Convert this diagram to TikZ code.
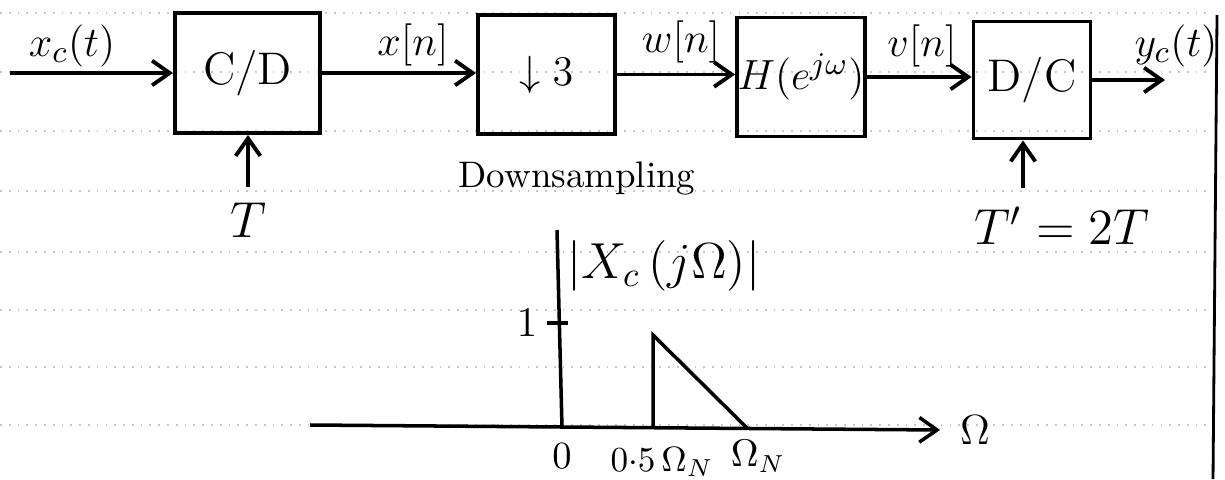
\documentclass[tikz,border=0pt]{standalone}
\usetikzlibrary{arrows.meta}
\begin{document}
\begin{tikzpicture}[x=0.01cm,y=-0.01cm,
  blk/.style={draw,line width=1.1pt,inner sep=0pt,font=\fontsize{13}{15}\selectfont},
  tip/.style={-{Straight Barb[length=5pt,width=7pt,line width=1.1pt]}},
  sig/.style={line width=1.1pt,tip},
  lbl/.style={font=\fontsize{13}{15}\selectfont,inner sep=1pt},
  small/.style={font=\fontsize{10.5}{12}\selectfont,inner sep=1pt},
  rule/.style={gray!45,dotted,line width=0.5pt},
  plotln/.style={line width=1pt}]
\useasboundingbox (0,0) rectangle (1225,479);
% ruled paper lines
\foreach \yy in {13,72,131,191,252,310,367,425}
  \draw[rule] (0,\yy) -- (1212,\yy);
\draw[line width=0.8pt] (1217,15) -- (1213,479);
% blocks
\node[blk,minimum width=1.45cm,minimum height=1.2cm] (cd) at (247.5,73) {C/D};
\node[blk,minimum width=1.37cm,minimum height=1.19cm] (ds) at (546.5,74.5) {$\downarrow 3$};
\node[blk,minimum width=1.28cm,minimum height=1.19cm] (h) at (801,77) {$H(e^{j\omega})$};
\node[blk,minimum width=1.17cm,minimum height=1.17cm] (dc) at (1032,80) {D/C};
% signal coordinates
\coordinate (in) at (10,73);
\coordinate (out) at (1165,80);
\coordinate (tsrc) at (248,187);
\coordinate (tpsrc) at (1023,188);
% connectors
\draw[sig] (in) -- (cd.west);
\draw[sig] (cd.east) -- (cd.east -| ds.west);
\draw[sig] (ds.east) -- (ds.east -| h.west);
\draw[sig] (h.east) -- (h.east -| dc.west);
\draw[sig] (dc.east) -- (out);
\draw[sig] (tsrc) -- (tsrc |- cd.south);
\draw[sig] (tpsrc) -- (tpsrc |- dc.south);
% labels
\node[lbl] (lxc) at (72,46) {$x_c(t)$};
\node[lbl] (lx) at (413,45) {$x[n]$};
\node[lbl] (lw) at (681,42) {$w[n]$};
\node[lbl] (lv) at (922,46) {$v[n]$};
\node[lbl] (ly) at (1176,46) {$y_c(t)$};
\node[lbl,font=\fontsize{15}{17}\selectfont] (lt) at (248,220) {$T$};
\node[lbl,font=\fontsize{14}{16}\selectfont] (ltp) at (1062,226) {$T' = 2T$};
\node[lbl,font=\fontsize{10.5}{12}\selectfont] (lds) at (577,178) {Downsampling};
% spectrum plot
\coordinate (o) at (562,428);
\draw[plotln] (557,230) -- (o);
\draw[plotln,-{Straight Barb[length=5pt,width=7pt,line width=1pt]}] (310,425) -- (940,430);
\draw[plotln] (547,323) -- (568,323);
\node[lbl] (l1) at (527,323) {$1$};
\draw[plotln] (653,428) -- (653,335) -- (747,428);
\node[lbl,font=\fontsize{14}{16}\selectfont] (lX) at (664,266) {$\bigl|X_c\,(j\Omega)\bigr|$};
\node[lbl] (lO) at (975,430) {$\Omega$};
\node[small] (l0) at (562,456) {$0$};
\node[small,font=\fontsize{10}{12}\selectfont] (l05) at (662,462) {$0{\cdot}5\,\Omega_N$};
\node[small] (lN) at (758,456) {$\Omega_N$};
\end{tikzpicture}
\end{document}
